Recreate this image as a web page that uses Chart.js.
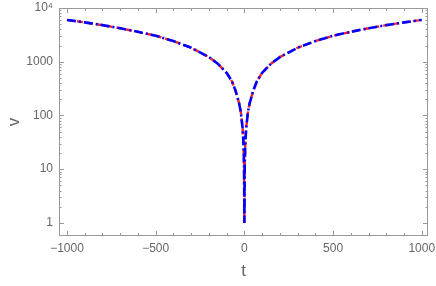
<!DOCTYPE html>
<html>
<head>
<meta charset="utf-8">
<script src="https://cdn.jsdelivr.net/npm/chart.js@4"></script>
<style>
  html, body { margin: 0; padding: 0; background: #fff; }
  #wrap { width: 436px; height: 286px; }
</style>
</head>
<body>
<div id="wrap"><canvas id="plot"></canvas></div>
<script>
// values
var tVals = [-1000, -900, -800, -700, -600, -500, -400, -300, -200, -150, -100, -70, -50, -30, -20, -10, -5, -2, 0,
             2, 5, 10, 20, 30, 50, 70, 100, 150, 200, 300, 400, 500, 600, 700, 800, 900, 1000];
var vVals = [6000, 5400, 4800, 4200, 3600, 3050, 2420, 1820, 1220, 920, 620, 430, 290, 170, 115, 58, 29, 12, 1,
             12, 29, 58, 115, 170, 290, 430, 620, 920, 1220, 1820, 2420, 3050, 3600, 4200, 4800, 5400, 6000];
var xMajor = [-1000, -500, 0, 500, 1000];
var yMajor = [1, 10, 100, 1000, 10000];

var pts = tVals.map(function (t, i) { return { x: t, y: vVals[i] }; });
var grey = '#999999';
var labelGrey = '#666666';

// inward frame ticks, Mathematica style
var frameTicks = {
    id: 'frameTicks',
    afterDraw: function (chart) {
        var c = chart.ctx, a = chart.chartArea;
        var xs = chart.scales.x, ys = chart.scales.y;
        c.save();
        c.strokeStyle = grey;
        c.lineWidth = 1;
        c.strokeRect(a.left + 0.5, a.top + 0.5, a.right - a.left - 1, a.bottom - a.top - 1);
        c.beginPath();
        for (var t = -1000; t <= 1000; t += 100) {
            var px = Math.round(xs.getPixelForValue(t)) + 0.5;
            var len = xMajor.indexOf(t) >= 0 ? 5 : 3;
            c.moveTo(px, a.bottom); c.lineTo(px, a.bottom - len);
            c.moveTo(px, a.top); c.lineTo(px, a.top + len);
        }
        for (var d = 1; d <= 10000; d *= 10) {
            for (var m = 1; m <= 9; m++) {
                var v = d * m;
                if (v > 10000) break;
                var py = Math.round(ys.getPixelForValue(v)) + 0.5;
                var l = m === 1 ? 5 : 2.5;
                c.moveTo(a.left, py); c.lineTo(a.left + l, py);
                c.moveTo(a.right, py); c.lineTo(a.right - l, py);
            }
        }
        c.stroke();
        c.restore();
    }
};

function noPad(s) {
    s.paddingLeft = 0; s.paddingRight = 0; s.paddingTop = 0; s.paddingBottom = 0;
}

new Chart(document.getElementById('plot'), {
    type: 'line',
    data: {
        datasets: [{
            label: 'blue',
            data: pts,
            borderColor: '#0000ff',
            borderWidth: 2.6,
            borderDash: [9, 3, 2, 3],
            pointRadius: 0,
            fill: false,
            tension: 0,
            order: 1
        }, {
            label: 'red',
            data: pts,
            borderColor: '#ff2020',
            borderWidth: 2.4,
            borderDash: [6, 4],
            pointRadius: 0,
            fill: false,
            tension: 0,
            order: 2
        }]
    },
    options: {
        responsive: true,
        maintainAspectRatio: false,
        animation: false,
        layout: { padding: { top: 8, right: 8, left: 0, bottom: 0 } },
        plugins: { legend: { display: false }, tooltip: { enabled: false } },
        scales: {
            x: {
                type: 'linear',
                min: -1045,
                max: 1035,
                afterBuildTicks: function (s) { s.ticks = xMajor.map(function (v) { return { value: v }; }); },
                afterFit: function (s) { s.height = 50; noPad(s); },
                grid: { display: false, drawTicks: false },
                border: { display: false },
                ticks: {
                    color: labelGrey,
                    font: { family: 'Liberation Sans', size: 12 },
                    padding: 5,
                    maxRotation: 0,
                    callback: function (v) { return v < 0 ? '\u2212' + Math.abs(v) : String(v); }
                },
                title: {
                    display: true,
                    text: 't',
                    color: labelGrey,
                    font: { family: 'Liberation Sans', size: 17 },
                    padding: { top: 8 }
                }
            },
            y: {
                type: 'logarithmic',
                min: 0.57,
                max: 10000,
                afterBuildTicks: function (s) { s.ticks = yMajor.map(function (v) { return { value: v }; }); },
                afterFit: function (s) { s.width = 59; noPad(s); },
                grid: { display: false, drawTicks: false },
                border: { display: false },
                ticks: {
                    color: labelGrey,
                    font: { family: 'Liberation Sans', size: 12 },
                    padding: 6,
                    callback: function (v) { return v === 10000 ? '10\u2074' : String(v); }
                },
                title: {
                    display: true,
                    text: 'v',
                    color: labelGrey,
                    font: { family: 'Liberation Sans', size: 17 },
                    padding: { bottom: 4 }
                }
            }
        }
    },
    plugins: [frameTicks]
});
</script>
</body>
</html>
